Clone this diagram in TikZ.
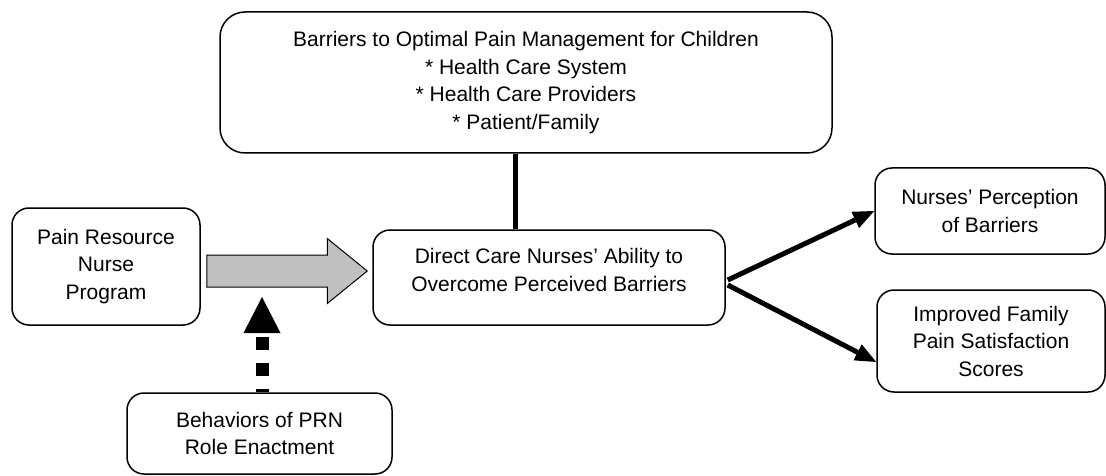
\documentclass[tikz,border=0pt]{standalone}
\usepackage{fontspec}
\setmainfont{Liberation Sans}
\usetikzlibrary{arrows.meta, calc}
\definecolor{arrowgray}{HTML}{C0C0C0}

\begin{document}
\begin{tikzpicture}[
    x=1pt, y=-1pt,
    box/.style = {draw, line width=1.5pt, rounded corners=17pt, align=center, inner sep=0pt, fill=white,
                  font=\fontsize{21}{27.5}\selectfont},
    link/.style = {line width=5pt},
    line/.style = {-{Triangle[length=21pt, width=18pt, line width=0pt]}, line width=5pt},
    dasharrow/.style = {-{Triangle[length=36pt, width=37pt, line width=0pt]}, line width=13pt,
                        dash pattern=on 13pt off 13pt, dash phase=10pt},
    bigarrow/.style = {draw, fill=arrowgray, line width=1pt, line join=miter}
]
    \useasboundingbox (0,0) rectangle (1106,476);

    % Nodes
    \node [box, rounded corners=25pt, minimum width=612pt, minimum height=141pt] (barriers) at (526,82.5)
        {Barriers to Optimal Pain Management for Children\\* Health Care System\\* Health Care Providers\\* Patient/Family};
    \node [box, minimum width=188pt, minimum height=117pt] (prn) at (106,266.5) {Pain Resource\\Nurse\\Program};
    \node [box, minimum width=352pt, minimum height=95pt] (direct) at (549,277.5)
        {Direct Care Nurses' Ability to\\Overcome Perceived Barriers\\[-12pt]\mbox{}};
    \node [box, minimum width=230pt, minimum height=86pt] (perception) at (990,211) {Nurses' Perception\\of Barriers};
    \node [box, minimum width=228pt, minimum height=102pt] (satisfaction) at (991,341)
        {Improved Family\\Pain Satisfaction\\Scores};
    \node [box, minimum width=265pt, minimum height=81pt] (behaviors) at (259.5,433.5) {Behaviors of PRN\\Role Enactment};

    % Big arrow
    \coordinate (bigstart) at ($(prn.east)+(6,4.5)$);
    \coordinate (bigtip) at ($(direct.west)+(-5,-6.5)$);
    \coordinate (bighead) at ($(bigtip)+(-40,0)$);
    \draw [bigarrow] ($(bigstart)+(0,-16)$) -- ($(bighead)+(0,-16)$) -- ($(bighead)+(0,-32.5)$) -- (bigtip)
        -- ($(bighead)+(0,32.5)$) -- ($(bighead)+(0,16)$) -- ($(bigstart)+(0,16)$) -- cycle;

    % Edges
    \draw [link] ([xshift=-11pt]barriers.south) -- ([xshift=-11pt]barriers.south |- direct.north);
    \draw [line] ($(direct.east)+(2,2.5)$) -- (perception.west);
    \draw [line] ($(direct.east)+(2,7.5)$) -- ($(satisfaction.west)+(0,21)$);

    % Role enactment
    \coordinate (prnjoin) at (262,297);
    \draw [dasharrow] (behaviors.north -| prnjoin) -- (prnjoin);

\end{tikzpicture}
\end{document}
